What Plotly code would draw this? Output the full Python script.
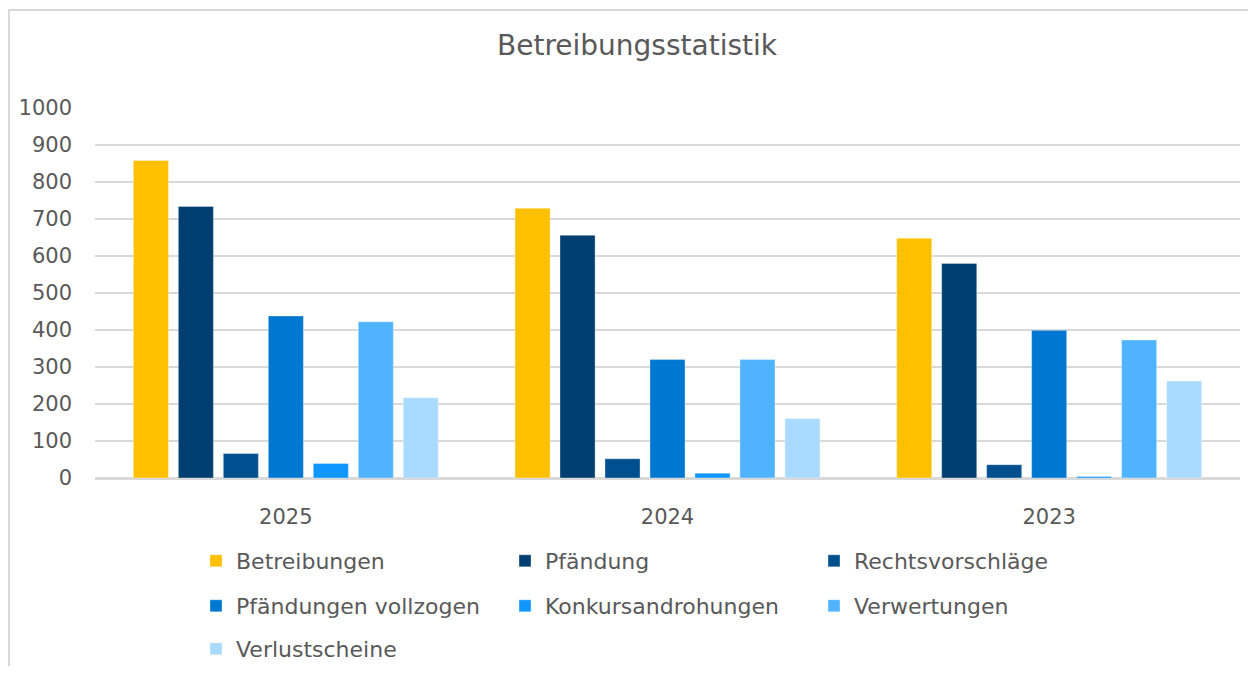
import plotly.graph_objects as go

years = ["2025", "2024", "2023"]
series_names = ["Betreibungen", "Pfändung", "Rechtsvorschläge", "Pfändungen vollzogen",
                "Konkursandrohungen", "Verwertungen", "Verlustscheine"]
betreibungen = [858, 729, 648]
pfaendung = [734, 656, 580]
rechtsvorschlaege = [66, 52, 36]
pfaendungen_vollzogen = [438, 320, 399]
konkursandrohungen = [39, 13, 4]
verwertungen = [422, 320, 373]
verlustscheine = [217, 161, 262]
values = [betreibungen, pfaendung, rechtsvorschlaege, pfaendungen_vollzogen,
          konkursandrohungen, verwertungen, verlustscheine]
colors = ["#FFC000", "#003F6F", "#00508F", "#0077D0", "#1096FF", "#50B3FF", "#AADAFF"]
legend_rows = ["legend", "legend", "legend", "legend2", "legend2", "legend2", "legend3"]

FONT = "DejaVu Sans"
GREY = "#595959"

# figure geometry (page body has an 8px margin)
W, H = 1240, 658
ML, MR, MT, MB = 87, 8, 100, 188
PW, PH = W - ML - MR, H - MT - MB


def px_x(p):
    return (p - ML) / PW


def px_y(p):
    return (H - MB - p) / PH


fig = go.Figure()
for name, vals, col, lg in zip(series_names, values, colors, legend_rows):
    fig.add_trace(go.Bar(name=name, x=years, y=vals, legend=lg,
                         marker=dict(color=col, line=dict(width=1, color="rgba(255,255,255,0.35)"))))

leg_common = dict(orientation="h", xanchor="left", yanchor="middle",
                  entrywidth=264, entrywidthmode="pixels",
                  font=dict(family=FONT, size=22, color=GREY), itemwidth=30,
                  bgcolor="rgba(0,0,0,0)")

LEG_X = 188
fig.update_layout(
    width=W, height=H,
    barmode="group", bargap=0.175, bargroupgap=0.22,
    paper_bgcolor="white", plot_bgcolor="white",
    margin=dict(l=ML, r=MR, t=MT, b=MB, autoexpand=False),
    title=dict(text="Betreibungsstatistik", x=629 / W, xanchor="center",
               y=1 - 37 / H, yanchor="middle",
               font=dict(family=FONT, size=28, color=GREY)),
    font=dict(family=FONT, color=GREY),
    showlegend=True,
    legend=dict(x=px_x(LEG_X), y=px_y(553), **leg_common),
    legend2=dict(x=px_x(LEG_X), y=px_y(598), **leg_common),
    legend3=dict(x=px_x(LEG_X), y=px_y(641), **leg_common),
    shapes=[
        dict(type="line", xref="paper", yref="paper", x0=px_x(0), x1=px_x(W),
             y0=px_y(2), y1=px_y(2), line=dict(color="#D9D9D9", width=2)),
        dict(type="line", xref="paper", yref="paper", x0=px_x(1), x1=px_x(1),
             y0=px_y(2), y1=px_y(H), line=dict(color="#D9D9D9", width=2)),
    ],
)
fig.update_yaxes(range=[0, 1000], dtick=100, showgrid=True, gridcolor="#D9D9D9", gridwidth=1.75,
                 zeroline=True, zerolinecolor="#D9D9D9", zerolinewidth=2.5,
                 tickfont=dict(family=FONT, size=21, color=GREY), ticklabelstandoff=22)
fig.update_xaxes(showgrid=False, showline=False, tickfont=dict(family=FONT, size=21, color=GREY),
                 ticklabelstandoff=24)

fig.write_html("out.html")
